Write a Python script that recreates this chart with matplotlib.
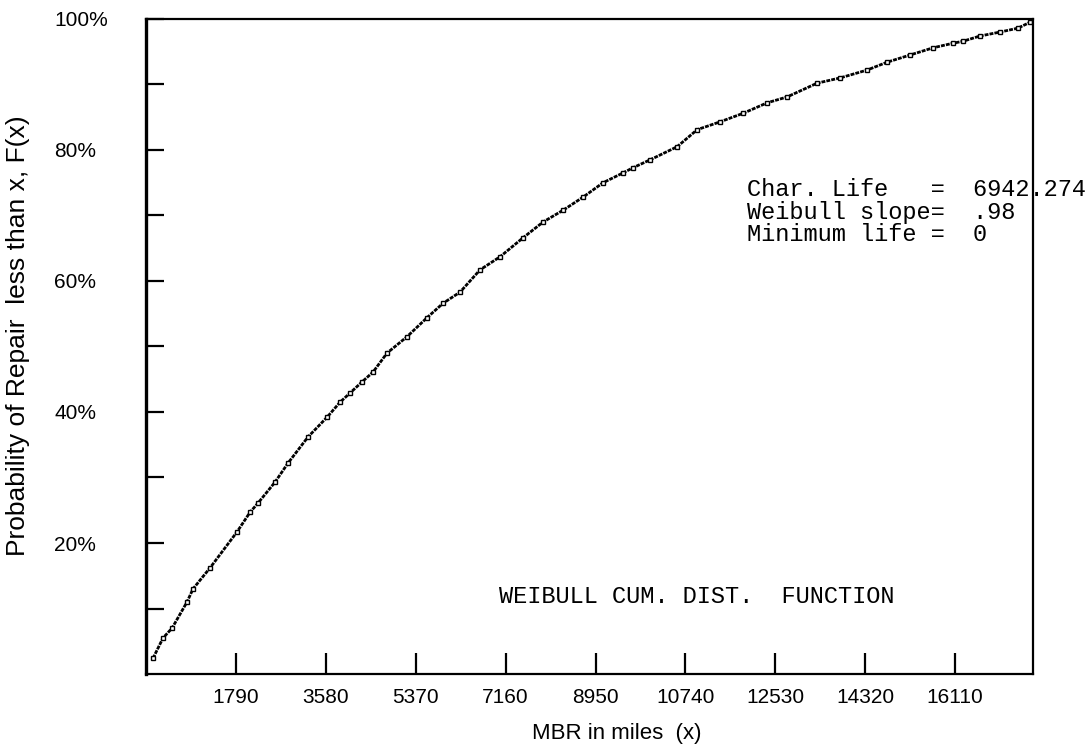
import matplotlib
matplotlib.use("Agg")
import matplotlib.pyplot as plt

# values
miles = [139, 338, 518, 816, 936, 1274, 1812, 2071, 2230, 2569, 2827, 3226,
         3604, 3863, 4062, 4301, 4520, 4799, 5197, 5595, 5914, 6252, 6650,
         7049, 7507, 7905, 8303, 8701, 9099, 9497, 9698, 10037, 10575, 10973,
         11430, 11888, 12366, 12764, 13361, 13819, 14356, 14754, 15212, 15670,
         16068, 16266, 16604, 17002, 17360, 17600]
cum_prob = [2.4, 5.5, 7.0, 11.0, 13.0, 16.2, 21.7, 24.7, 26.1, 29.3, 32.2, 36.2,
            39.2, 41.5, 42.9, 44.6, 46.1, 49.0, 51.5, 54.4, 56.6, 58.3, 61.7,
            63.7, 66.6, 69.0, 70.8, 72.8, 75.0, 76.5, 77.3, 78.5, 80.5, 83.1,
            84.3, 85.6, 87.2, 88.1, 90.2, 91.0, 92.2, 93.4, 94.5, 95.6,
            96.3, 96.6, 97.4, 98.0, 98.6, 99.5]

x_ticks = [1790, 3580, 5370, 7160, 8950, 10740, 12530, 14320, 16110]
y_ticks = [10, 20, 30, 40, 50, 60, 70, 80, 90, 100]
y_labels = ["", "20%", "", "40%", "", "60%", "", "80%", "", "100%"]

info_lines = ["Char. Life   =  6942.274",
              "Weibull slope=  .98",
              "Minimum life =  0"]
title_text = "WEIBULL CUM. DIST.  FUNCTION"

plt.rcParams['font.family'] = ['Liberation Sans', 'DejaVu Sans']

fig = plt.figure(figsize=(10.89, 7.53), dpi=100)
ax = fig.add_axes([0.1341, 0.1049, 0.8145, 0.8699])

ax.plot(miles, cum_prob, color='black', lw=2.0, linestyle=(0, (1.4, 0.4)),
        marker='s', markersize=3.0, mfc='white', mec='black', mew=1.0)

ax.set_xlim(0, 17660)
ax.set_ylim(0, 100)

ax.set_xticks(x_ticks)
ax.set_xticklabels([str(t) for t in x_ticks], fontsize=15)
ax.set_yticks(y_ticks)
ax.set_yticklabels(y_labels, fontsize=15, ha='left')
ax.tick_params(axis='x', direction='in', length=15, width=1.6, pad=10)
ax.tick_params(axis='y', direction='in', length=13, width=1.6, pad=66)

for s in ax.spines.values():
    s.set_linewidth(1.6)
ax.spines['left'].set_linewidth(2.4)

mono = ['Liberation Mono', 'DejaVu Sans Mono']
ax.text(0.677, 0.757, "\n".join(info_lines), transform=ax.transAxes,
        family=mono, fontsize=17, va='top', ha='left', linespacing=0.98,
        clip_on=False)
ax.text(0.398, 0.118, title_text, transform=ax.transAxes,
        family=mono, fontsize=17, va='center', ha='left')

fig.text(617 / 1089, 1 - 733 / 753, "MBR in miles  (x)", fontsize=16,
         ha='center', va='center')
fig.text(18 / 1089, 1 - 336 / 753, "Probability of Repair  less than x, F(x)",
         fontsize=19, rotation=90, ha='center', va='center')

fig.savefig("out.png", dpi=100)
